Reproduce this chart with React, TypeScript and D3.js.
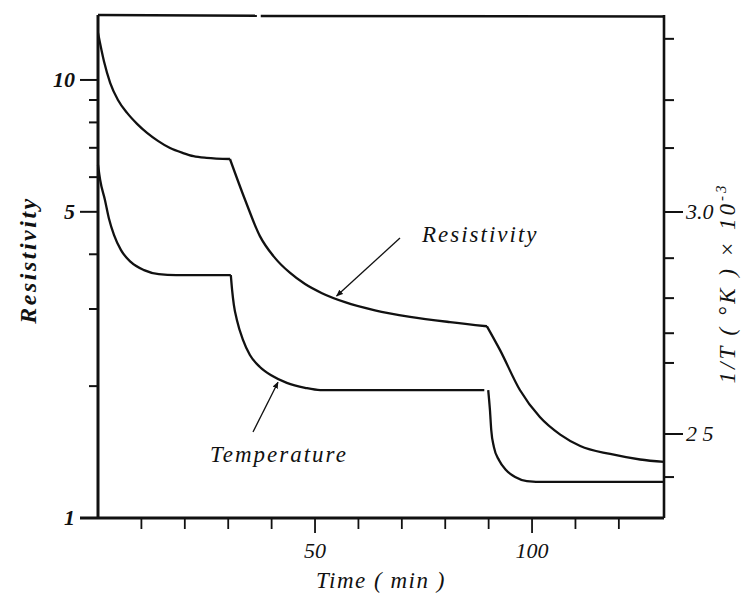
import React from 'react';
import * as d3 from 'd3';

// Time axis (min)
const T_END = 130.4;
const timeTicks = [10, 20, 30, 40, 50, 60, 70, 80, 90, 100, 110, 120];
const timeLabelTicks = [50, 100];

// Resistivity axis (log scale)
const RES_TOP = 14.07;
const resMajor = [1, 5, 10];
const resMinor = [2, 3, 4, 6, 7, 8, 9];

// 1/T axis (x 10^-3)
const INV_DOMAIN = [2.3108, 3.4437];
const invMajor = [3.0, 2.5];
const invMajorLabels = ['3.0', '2 5'];
const invMinor = [3.39, 3.252, 3.144, 2.896, 2.806, 2.727, 2.66, 2.403];

// Resistivity vs time
const resTime = [0, 1.4, 2.8, 4.6, 6.7, 9.0, 11.3, 13.8, 16.6, 19.6, 22.0, 25.0, 30.4,
  33.9, 37.3, 40.8, 44.2, 47.7, 51.6, 56.9, 63.8, 71.9, 81.1, 89.6,
  92.6, 97.2, 101.8, 106.5, 111.1, 118.0, 124.9, 130.4];
const resValue = [12.8, 11.0, 9.85, 9.0, 8.41, 7.94, 7.57, 7.26, 6.99, 6.81, 6.70, 6.64, 6.6,
  5.32, 4.40, 3.92, 3.63, 3.42, 3.26, 3.11, 2.98, 2.88, 2.80, 2.74,
  2.42, 1.96, 1.70, 1.55, 1.46, 1.40, 1.36, 1.343];
const resKinks = [30.4, 89.6];

// Temperature (as 1/T x 10^-3) vs time; null lifts the pen
const tempTime = [0, 0.5, 1.6, 2.5, 3.7, 5.3, 7.6, 10.6, 14.0, 18.0, 30.6,
  30.9, 31.3, 32.0, 33.4, 35.0, 37.3, 40.1, 43.5, 47.7, 51.2, 89.0,
  89.4,
  89.9, 90.3, 90.6, 91.2, 92.4, 94.0, 96.1, 98.8, 103.0, 130.4];
const tempValue: (number | null)[] = [3.106, 3.072, 3.027, 2.986, 2.948, 2.914, 2.887, 2.869, 2.860, 2.858, 2.858,
  2.824, 2.791, 2.757, 2.712, 2.678, 2.651, 2.631, 2.615, 2.604, 2.599, 2.599,
  null,
  2.599, 2.554, 2.509, 2.471, 2.441, 2.419, 2.403, 2.394, 2.392, 2.392];
const tempKinks = [30.6];

// Annotation arrows: time on the curve the arrow points to
const resArrowTime = 54.5;
const tempArrowTime = 41.7;

type Pt = { t: number; v: number };

function segments(times: number[], values: (number | null)[], kinks: number[]): Pt[][] {
  const segs: Pt[][] = [];
  let cur: Pt[] = [];
  times.forEach((t, i) => {
    const v = values[i];
    if (v == null) {
      if (cur.length > 1) segs.push(cur);
      cur = [];
      return;
    }
    const p = { t, v };
    cur.push(p);
    if (kinks.includes(t)) {
      segs.push(cur);
      cur = [p];
    }
  });
  if (cur.length > 1) segs.push(cur);
  return segs;
}

function valueAt(times: number[], values: (number | null)[], t: number): number {
  for (let i = 0; i < times.length - 1; i++) {
    const a = values[i], b = values[i + 1];
    if (a == null || b == null) continue;
    if (t >= times[i] && t <= times[i + 1]) {
      const f = (t - times[i]) / (times[i + 1] - times[i]);
      return a + (b - a) * f;
    }
  }
  return values[values.length - 1] as number;
}

export default function App() {
  const left = 98, right = 664, top = 15, bottom = 518;
  const x = d3.scaleLinear().domain([0, T_END]).range([left, right]);
  const yRes = d3.scaleLog().domain([1, RES_TOP]).range([bottom, top]);
  const yInv = d3.scaleLinear().domain(INV_DOMAIN).range([bottom, top]);

  const resLine = d3.line<Pt>().x(d => x(d.t)).y(d => yRes(d.v)).curve(d3.curveMonotoneX);
  const tempLine = d3.line<Pt>().x(d => x(d.t)).y(d => yInv(d.v)).curve(d3.curveMonotoneX);

  const resSegs = segments(resTime, resValue, resKinks);
  const tempSegs = segments(tempTime, tempValue, tempKinks);

  const resTip = [x(resArrowTime), yRes(valueAt(resTime, resValue, resArrowTime))];
  const tempTip = [x(tempArrowTime), yInv(valueAt(tempTime, tempValue, tempArrowTime))];

  const ink = '#111';
  const font = '"Liberation Serif", "Times New Roman", Times, serif';
  const frameW = 2.6;

  // top edge drawn with a small break in the ink
  const gapA = x(36.6), gapB = x(37.5);

  return (
    <svg width={743} height={594} style={{ position: 'absolute', left: 0, top: 0, background: '#fff', fontFamily: font }}>
      <defs>
        <marker id="head" viewBox="0 0 10 10" refX="9" refY="5" markerWidth="7" markerHeight="7"
          orient="auto" markerUnits="userSpaceOnUse">
          <path d="M0,1 L10,5 L0,9 z" fill={ink} />
        </marker>
      </defs>

      {/* frame */}
      <line x1={left} y1={top} x2={left} y2={bottom} stroke={ink} strokeWidth={3} />
      <line x1={left - 18} y1={bottom} x2={right} y2={bottom} stroke={ink} strokeWidth={3} />
      <line x1={right} y1={top} x2={right} y2={bottom} stroke={ink} strokeWidth={frameW} />
      <line x1={left} y1={top} x2={gapA} y2={top + 0.8} stroke={ink} strokeWidth={frameW} />
      <line x1={gapB} y1={top + 1} x2={right} y2={top + 1.5} stroke={ink} strokeWidth={frameW} />

      {/* left axis ticks */}
      {resMajor.filter(v => v !== 1).map(v => (
        <line key={'rM' + v} x1={left - 18} x2={left} y1={yRes(v)} y2={yRes(v)} stroke={ink} strokeWidth={2} />
      ))}
      {resMinor.map(v => (
        <line key={'rm' + v} x1={left - 9} x2={left} y1={yRes(v)} y2={yRes(v)} stroke={ink} strokeWidth={2} />
      ))}
      {resMajor.map(v => (
        <text key={'rl' + v} x={left - 23} y={yRes(v)} dy="0.34em" textAnchor="end"
          fontSize={22} fontStyle="italic" fontWeight="bold" fill={ink}>{v}</text>
      ))}

      {/* bottom axis ticks */}
      {timeTicks.map(t => (
        <line key={'t' + t} x1={x(t)} x2={x(t)} y1={bottom} y2={bottom + (timeLabelTicks.includes(t) ? 15 : 11)}
          stroke={ink} strokeWidth={1.8} />
      ))}
      {timeLabelTicks.map(t => (
        <text key={'tl' + t} x={x(t)} y={558} textAnchor="middle" fontSize={22} fontStyle="italic" fill={ink}>{t}</text>
      ))}
      <text x={(left + right) / 2} y={588} textAnchor="middle" fontSize={23} fontStyle="italic"
        letterSpacing={1.5} fill={ink}>Time ( min )</text>

      {/* right axis ticks */}
      {invMinor.map(v => (
        <line key={'im' + v} x1={right} x2={right + 10} y1={yInv(v)} y2={yInv(v)} stroke={ink} strokeWidth={2} />
      ))}
      {invMajor.map((v, i) => (
        <g key={'iM' + v}>
          <line x1={right} x2={right + 19} y1={yInv(v)} y2={yInv(v)} stroke={ink} strokeWidth={2} />
          <text x={right + 22} y={yInv(v)} dy="0.34em" fontSize={22} fontStyle="italic" fill={ink}>
            {invMajorLabels[i]}
          </text>
        </g>
      ))}

      {/* axis titles */}
      <text transform="translate(36,260) rotate(-90)" textAnchor="middle" fontSize={24} fontStyle="italic"
        fontWeight="bold" letterSpacing={2.5} fill={ink}>Resistivity</text>
      <text transform="translate(735,283) rotate(-90)" textAnchor="middle" fontSize={23} fontStyle="italic"
        letterSpacing={3} fill={ink}>
        1/T ( °K ) × 10<tspan dy={-9} fontSize={15}>-3</tspan>
      </text>

      {/* curves */}
      {resSegs.map((s, i) => (
        <path key={'rs' + i} d={resLine(s) || ''} fill="none" stroke={ink} strokeWidth={2.3} strokeLinejoin="round" />
      ))}
      {tempSegs.map((s, i) => (
        <path key={'ts' + i} d={tempLine(s) || ''} fill="none" stroke={ink} strokeWidth={2.3} strokeLinejoin="round" />
      ))}

      {/* annotations */}
      <line x1={400} y1={238} x2={resTip[0] + 2} y2={resTip[1] - 2} stroke={ink} strokeWidth={1.3} markerEnd="url(#head)" />
      <text x={422} y={242} fontSize={23} fontStyle="italic" letterSpacing={2} fill={ink}>Resistivity</text>
      <line x1={253} y1={432} x2={tempTip[0] - 1} y2={tempTip[1] + 3} stroke={ink} strokeWidth={1.3} markerEnd="url(#head)" />
      <text x={210} y={462} fontSize={23} fontStyle="italic" letterSpacing={2} fill={ink}>Temperature</text>
    </svg>
  );
}
